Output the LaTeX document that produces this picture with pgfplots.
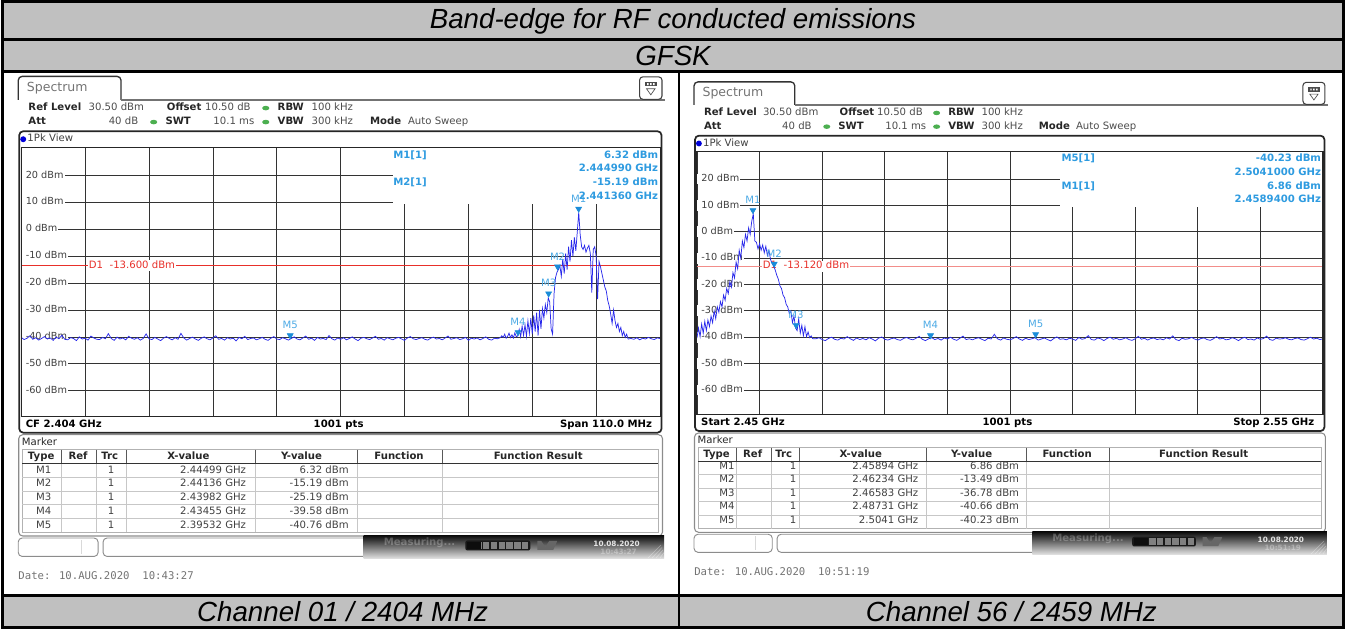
\documentclass[border=0pt]{standalone}
\usepackage{fontspec}
\setmainfont{Liberation Sans}
\newfontfamily\dv{DejaVu Sans}
\newfontfamily\dvm{DejaVu Sans Mono}
\usepackage{pgfplots}
\pgfplotsset{compat=1.18}
\usepackage{pgfplotstable}

\definecolor{cellgray}{HTML}{C0C0C0}
\definecolor{trace}{RGB}{40,40,235}
\definecolor{mkblue}{HTML}{1A8CD8}
\definecolor{infoblue}{HTML}{2E9BE0}
\definecolor{d1red}{HTML}{E8302A}
\definecolor{okgreen}{HTML}{4CAF50}

\newcommand\sa{\dv\fontsize{7.6}{9}\selectfont}

% ---- CH01 trace, floor 2349..2431.5 MHz, 0.5 MHz steps
\pgfplotstableread[row sep=\\]{y\\
-40.2\\ -41.0\\ -40.5\\ -39.6\\ -40.9\\ -40.3\\ -41.2\\ -40.6\\ -39.9\\ -40.8\\
-40.4\\ -41.3\\ -40.1\\ -40.7\\ -39.4\\ -40.9\\ -41.1\\ -40.3\\ -40.6\\ -41.4\\
-40.0\\ -40.8\\ -40.5\\ -41.2\\ -39.7\\ -40.4\\ -40.9\\ -41.0\\ -40.2\\ -40.7\\
-38.8\\ -40.6\\ -41.3\\ -40.1\\ -40.8\\ -40.4\\ -41.1\\ -39.8\\ -40.5\\ -40.9\\
-40.3\\ -41.2\\ -40.6\\ -38.9\\ -40.7\\ -41.0\\ -40.2\\ -40.8\\ -41.4\\ -40.5\\
-39.9\\ -40.6\\ -41.1\\ -40.3\\ -40.9\\ -38.7\\ -40.4\\ -41.2\\ -40.6\\ -40.1\\
-40.8\\ -41.3\\ -40.5\\ -40.0\\ -40.7\\ -41.1\\ -40.4\\ -39.6\\ -40.9\\ -40.6\\
-41.2\\ -40.3\\ -40.8\\ -40.5\\ -41.5\\ -40.2\\ -40.7\\ -39.8\\ -41.0\\ -40.6\\
-40.4\\ -41.1\\ -40.7\\ -40.2\\ -40.9\\ -41.3\\ -40.5\\ -39.9\\ -40.8\\ -41.0\\
-40.3\\ -40.7\\ -41.2\\ -40.6\\ -40.0\\ -40.8\\ -41.1\\ -40.4\\ -39.7\\ -40.9\\
-40.5\\ -41.3\\ -40.2\\ -40.8\\ -40.6\\ -41.0\\ -39.5\\ -40.7\\ -41.2\\ -40.4\\
-40.9\\ -40.3\\ -41.1\\ -40.6\\ -40.0\\ -40.8\\ -41.4\\ -40.5\\ -40.2\\ -40.7\\
-41.0\\ -40.4\\ -39.8\\ -40.9\\ -40.6\\ -41.2\\ -40.3\\ -40.7\\ -41.1\\ -40.5\\
-40.2\\ -40.8\\ -41.3\\ -40.4\\ -39.9\\ -40.7\\ -41.0\\ -40.6\\ -40.3\\ -40.9\\
-41.2\\ -40.5\\ -40.1\\ -40.8\\ -40.6\\ -41.1\\ -40.4\\ -39.7\\ -40.9\\ -40.6\\
-40.3\\ -41.0\\ -40.7\\ -40.2\\ -41.3\\ -40.5\\ -40.8\\ -40.4\\ -41.1\\ -40.6\\
-40.0\\ -40.9\\ -41.2\\ -40.5\\ -40.7\\ -40.3\\
}\flLa
% ---- CH01 emission, 0.25 MHz steps
\pgfplotstableread[row sep=\\]{x y\\
2431.50 -40.3\\ 2431.75 -39.6\\
2432.00 -40.2\\ 2432.25 -39.0\\ 2432.50 -40.5\\ 2432.75 -39.8\\ 2433.00 -38.6\\ 2433.25 -40.3\\
2433.50 -39.2\\ 2433.75 -40.4\\ 2434.00 -38.5\\ 2434.25 -40.0\\ 2434.50 -39.6\\
2434.75 -37.2\\ 2435.00 -40.0\\ 2435.25 -36.0\\ 2435.50 -39.5\\ 2435.75 -35.5\\ 2436.00 -39.8\\
2436.25 -34.0\\ 2436.50 -38.8\\ 2436.75 -33.0\\ 2437.00 -39.0\\ 2437.25 -32.0\\ 2437.50 -38.0\\
2437.75 -31.0\\ 2438.00 -39.5\\ 2438.25 -30.0\\ 2438.50 -37.0\\ 2438.75 -29.5\\ 2439.00 -33.0\\
2439.25 -28.0\\ 2439.50 -31.0\\ 2439.75 -25.5\\ 2440.00 -27.0\\ 2440.25 -37.0\\ 2440.50 -39.0\\
2440.75 -24.0\\ 2441.00 -18.0\\ 2441.25 -16.0\\ 2441.50 -15.0\\
2441.75 -13.5\\ 2442.00 -17.5\\ 2442.25 -11.0\\ 2442.50 -16.5\\ 2442.75 -9.0\\ 2443.00 -15.0\\
2443.25 -6.5\\ 2443.50 -12.0\\ 2443.75 -4.0\\ 2444.00 -10.0\\ 2444.25 -3.0\\ 2444.50 -8.0\\
2444.75 -1.0\\ 2445.00 6.3\\ 2445.25 -2.0\\
2445.50 -6.5\\ 2445.75 -7.5\\ 2446.00 -6.0\\ 2446.25 -8.5\\ 2446.50 -7.0\\ 2446.75 -6.0\\
2447.00 -9.0\\ 2447.25 -23.5\\ 2447.50 -7.5\\ 2447.75 -6.5\\ 2448.00 -10.0\\ 2448.25 -26.0\\
2448.50 -12.0\\ 2448.75 -14.0\\
2449.00 -16.5\\ 2449.25 -19.0\\ 2449.50 -21.5\\ 2449.75 -23.0\\ 2450.00 -26.5\\ 2450.25 -28.5\\
2450.50 -31.5\\ 2450.75 -35.0\\ 2451.00 -30.0\\ 2451.25 -34.0\\ 2451.50 -36.5\\ 2451.75 -35.0\\
2452.00 -38.0\\ 2452.25 -36.5\\ 2452.50 -39.5\\ 2452.75 -38.0\\ 2453.00 -40.2\\ 2453.25 -39.0\\
2453.50 -40.8\\
}\emL
% ---- CH01 floor 2453.5..2459 MHz
\pgfplotstableread[row sep=\\]{y\\
-40.8\\ -40.6\\ -40.9\\ -40.3\\ -41.1\\ -40.5\\ -40.8\\ -40.2\\ -40.7\\ -41.0\\ -40.4\\ -40.6\\
}\flLb

% ---- CH56 emission 2450..2468.5 MHz, 0.25 MHz steps
\pgfplotstableread[row sep=\\]{x y\\
2450.00 -40.3\\ 2450.25 -36.5\\ 2450.50 -39.8\\ 2450.75 -35.0\\ 2451.00 -38.5\\ 2451.25 -34.0\\
2451.50 -37.5\\ 2451.75 -33.5\\ 2452.00 -36.0\\ 2452.25 -32.0\\ 2452.50 -34.5\\ 2452.75 -30.0\\
2453.00 -33.0\\ 2453.25 -28.5\\ 2453.50 -30.5\\ 2453.75 -26.5\\ 2454.00 -28.5\\ 2454.25 -24.0\\
2454.50 -26.0\\ 2454.75 -21.5\\ 2455.00 -23.5\\ 2455.25 -19.0\\ 2455.50 -21.0\\ 2455.75 -15.5\\
2456.00 -17.5\\ 2456.25 -11.5\\ 2456.50 -14.0\\ 2456.75 -7.0\\ 2457.00 -10.0\\ 2457.25 -3.5\\
2457.50 -6.0\\ 2457.75 -1.0\\ 2458.00 -3.5\\ 2458.25 1.5\\ 2458.50 -1.0\\ 2458.75 4.0\\
2459.00 6.8\\ 2459.25 -3.5\\ 2459.50 -4.0\\ 2459.75 -6.5\\ 2460.00 -4.5\\ 2460.25 -7.0\\
2460.50 -5.0\\ 2460.75 -8.0\\ 2461.00 -5.5\\ 2461.25 -9.0\\ 2461.50 -7.0\\ 2461.75 -10.5\\
2462.00 -12.0\\ 2462.25 -13.0\\ 2462.50 -14.5\\ 2462.75 -16.5\\ 2463.00 -18.0\\ 2463.25 -20.5\\
2463.50 -21.5\\ 2463.75 -24.0\\ 2464.00 -25.0\\ 2464.25 -27.5\\ 2464.50 -28.5\\ 2464.75 -31.0\\
2465.00 -30.0\\ 2465.25 -34.5\\ 2465.50 -32.0\\ 2465.75 -36.5\\ 2466.00 -37.5\\ 2466.25 -33.0\\
2466.50 -38.5\\ 2466.75 -35.5\\ 2467.00 -39.5\\ 2467.25 -36.0\\ 2467.50 -39.8\\ 2467.75 -38.0\\
2468.00 -40.2\\ 2468.25 -39.5\\ 2468.50 -40.6\\
}\emR
% ---- CH56 floor 2468.5..2550 MHz, 0.5 MHz steps
\pgfplotstableread[row sep=\\]{y\\
-40.6\\
-40.6\\ -40.2\\ -40.9\\ -41.3\\ -40.5\\ -40.0\\ -40.8\\ -41.1\\ -40.4\\ -40.7\\
-39.8\\ -40.6\\ -41.2\\ -40.3\\ -40.9\\ -40.5\\ -41.0\\ -40.2\\ -40.7\\ -41.4\\
-40.4\\ -39.9\\ -40.8\\ -41.1\\ -40.6\\ -40.3\\ -40.9\\ -41.2\\ -40.5\\ -40.1\\
-40.7\\ -41.0\\ -40.4\\ -39.7\\ -40.8\\ -41.3\\ -40.6\\ -40.2\\ -40.9\\ -40.5\\
-41.1\\ -40.3\\ -40.7\\ -40.0\\ -40.8\\ -41.2\\ -40.4\\ -39.6\\ -40.9\\ -40.6\\
-41.0\\ -40.5\\ -40.2\\ -40.8\\ -41.3\\ -40.4\\ -40.7\\ -38.9\\ -40.6\\ -41.1\\
-40.3\\ -40.8\\ -41.0\\ -40.5\\ -39.8\\ -40.7\\ -41.2\\ -40.4\\ -40.9\\ -40.6\\
-40.2\\ -41.1\\ -40.7\\ -40.3\\ -40.9\\ -41.4\\ -40.5\\ -39.9\\ -40.8\\ -40.6\\
-41.0\\ -40.4\\ -40.7\\ -41.2\\ -40.1\\ -40.8\\ -40.5\\ -39.4\\ -40.9\\ -41.1\\
-40.3\\ -40.6\\ -41.3\\ -40.5\\ -40.0\\ -40.8\\ -40.4\\ -41.0\\ -40.7\\ -40.2\\
-40.9\\ -41.2\\ -40.6\\ -39.7\\ -40.8\\ -40.4\\ -41.1\\ -40.5\\ -40.3\\ -40.9\\
-40.6\\ -41.0\\ -40.2\\ -40.7\\ -39.5\\ -40.9\\ -41.3\\ -40.4\\ -40.8\\ -40.6\\
-40.1\\ -40.7\\ -41.1\\ -40.5\\ -40.3\\ -40.9\\ -41.2\\ -40.6\\ -39.8\\ -40.7\\
-40.4\\ -41.0\\ -40.8\\ -40.2\\ -40.6\\ -41.3\\ -40.5\\ -40.0\\ -40.9\\ -40.7\\
-41.1\\ -40.3\\ -40.8\\ -40.5\\ -39.6\\ -40.9\\ -41.2\\ -40.4\\ -40.7\\ -40.6\\
-40.2\\ -40.8\\ -41.0\\ -40.5\\ -40.3\\ -40.9\\ -41.1\\ -40.6\\ -40.0\\ -40.7\\
-40.4\\ -40.9\\ -40.6\\
}\flR

\tikzset{
  px/.style={x=0.75pt, y=-0.75pt},
  t/.style={inner sep=0pt, text height=5.4pt, text depth=1.4pt, font=\sa, text=black!85},
  tl/.style={anchor=west, fill=white, inner sep=0.8pt, text height=5.2pt, text depth=1.3pt,
    font=\dv\fontsize{7.3}{9}\selectfont, text=black!75},
  info/.style={t, font=\sa\bfseries, text=infoblue},
  head/.style={font=\fontsize{20.8}{24}\selectfont\itshape, inner sep=0pt},
}

\pgfplotsset{
  spec/.style={scale only axis, anchor=south west, axis line style={draw=none},
    xmajorgrids, ymajorgrids, major grid style={black!80, line width=0.55pt},
    major tick length=0pt, xticklabels={}, yticklabels={},
    ymin=-69.5, ymax=30.5, ytick={-60,-50,...,20}},
  tr/.style={trace, line width=0.55pt, no marks},
  mk/.style={only marks, mark=triangle*, mark size=2.6pt,
    mark options={yshift=2.6pt, rotate=180, fill=mkblue, draw=mkblue},
    point meta=explicit symbolic, nodes near coords,
    every node near coord/.append style={anchor=south, yshift=4.2pt, inner sep=0.5pt,
      font=\dv\fontsize{7.6}{9}\selectfont, text=infoblue!85}},
}

% analyzer screen furniture, in pixel coordinates of the left screen
\newcommand\chrome[1]{%
  \draw[black!80, line width=1pt, rounded corners=3pt] (17,100) -- (17,76.5) -- (120,76.5) -- (120,100);
  \draw[black!55, line width=1.1pt] (120,100) -- (665,100);
  \node[anchor=west, inner sep=0pt, text=black!55, font=\dv\fontsize{9.4}{11}\selectfont] at (25.5,88.5) {Spectrum};
  \draw[black!75, line width=0.8pt, rounded corners=2.5pt] (639.5,77) rectangle (662,99.5);
  \fill[black!70] (645,82) rectangle (656.5,86.5);
  \fill[white] (647,83.3) rectangle (648.5,85.2) (650,83.3) rectangle (651.5,85.2) (653,83.3) rectangle (654.5,85.2);
  \draw[black!70, line width=0.5pt] (646.5,89) -- (655,89) -- (650.75,95) -- cycle;
  % settings
  \node[t, anchor=west, font=\sa\bfseries] at (27,108.3) {Ref Level};
  \node[t, anchor=west, text=black!70] at (87.3,108.3) {30.50 dBm};
  \node[t, anchor=west, font=\sa\bfseries] at (165.7,108.3) {Offset};
  \node[t, anchor=west, text=black!70] at (204,108.3) {10.50 dB};
  \node[t, anchor=west, font=\sa\bfseries] at (276.7,108.3) {RBW};
  \node[t, anchor=west, text=black!70] at (310.7,108.3) {100 kHz};
  \node[t, anchor=west, font=\sa\bfseries] at (27,122.3) {Att};
  \node[t, anchor=east, text=black!70] at (137.5,122.3) {40 dB};
  \node[t, anchor=west, font=\sa\bfseries] at (164.3,122.3) {SWT};
  \node[t, anchor=west, text=black!70] at (212.3,122.3) {10.1 ms};
  \node[t, anchor=west, font=\sa\bfseries] at (276.7,122.3) {VBW};
  \node[t, anchor=west, text=black!70] at (310.7,122.3) {300 kHz};
  \node[t, anchor=west, font=\sa\bfseries] at (369.3,122.3) {Mode};
  \node[t, anchor=west, text=black!70] at (407.3,122.3) {Auto Sweep};
  \fill[okgreen] (265,108.3) ellipse [x radius=3.6, y radius=2.3];
  \fill[okgreen] (265,122.3) ellipse [x radius=3.6, y radius=2.3];
  \fill[okgreen] (152.7,122.3) ellipse [x radius=3.6, y radius=2.3];
  % window
  \draw[black!85, line width=1.3pt, rounded corners=3pt] (18,131.5) rectangle (661.5,433.5);
  \fill[blue!85!black] (22,139.5) circle [radius=3];
  \node[t, anchor=west, text=black!75] at (26,139.5) {1Pk View};
  % marker list
  \draw[black!45, line width=0.8pt, rounded corners=3pt] (17.5,435.5) rectangle (662.5,537);
  \node[t, anchor=west, text=black!85] at (20.5,443.3) {Marker};
  \draw[black!30, line width=0.6pt] (21,450.5) rectangle (658.3,533.3);
  \foreach \yy in {478.3,492,505.8,519.5} \draw[black!22, line width=0.6pt] (21,\yy) -- (658.3,\yy);
  \foreach \xx in {60.7,95.7,125,254.3,356.7,441.7} {
    \draw[black!65, line width=0.6pt] (\xx,450.5) -- (\xx,464.5);
    \draw[black!22, line width=0.6pt] (\xx,464.5) -- (\xx,533.3);}
  \draw[black!80, line width=0.9pt] (21,464.5) -- (658.3,464.5);
  \foreach \c/\h in {40/Type, 77/Ref, 108.7/Trc, 187.5/X-value, 300.8/Y-value, 398.5/Function, 538/Function Result}
    \node[t, font=\sa\bfseries] at (\c,457.6) {\h};
  % status bar
  \draw[black!45, line width=0.7pt, rounded corners=3pt] (17,539) rectangle (97,557.5);
  \draw[black!15, line width=0.6pt] (80,541) -- (80,555.5);
  \draw[black!45, line width=0.7pt, rounded corners=3pt] (102,539) rectangle (368,557.5);
  \shade[top color=black!95, bottom color=black!10] (363,536.5) rectangle (664,560);
  \node[t, anchor=west, font=\sa\bfseries, text=white, opacity=0.25] at (383,544) {Measuring...};
  \fill[black!90, rounded corners=1.5pt] (465,541.5) rectangle (530,551.5);
  \foreach \i in {0,...,7} \fill[black!50] ({467+\i*7.8},543) rectangle ({473.5+\i*7.8},550);
  \fill[black!95] (467,543) rectangle (481,550);
  \fill[black!60] (537,542) -- (541,542) -- (545,548) -- (549,542) -- (557,542) -- (553,551) -- (537,551) -- cycle;
  \node[anchor=west, inner sep=0pt, font=\dv\bfseries\fontsize{5.5}{6}\selectfont, text=white, opacity=0.85] at (593,544.5) {10.08.2020};
  \node[anchor=west, inner sep=0pt, font=\dv\bfseries\fontsize{5.5}{6}\selectfont, text=white, opacity=0.3] at (600,553) {#1};
  \foreach \i in {0,...,3} \draw[white, opacity=0.35, line width=0.4pt] ({648+\i*4},559) -- ({661+\i*1},546+\i*2.5);
  \node[anchor=west, inner sep=0pt, font=\dvm\fontsize{8}{9}\selectfont, text=black!55] at (17,577) {Date: 10.AUG.2020\ \ #1};
}

\begin{document}
\begin{tikzpicture}
\begin{scope}[px]
  \useasboundingbox (0,0) rectangle (1346,630);
  \fill[cellgray] (0,0) rectangle (1346,72) (0,597) rectangle (1346,630);
  \chrome{10:43:27}
\end{scope}
\begin{scope}[px, shift={(677.4,7.05)}, scale=0.98]
  \chrome{10:51:19}
\end{scope}

% ---- Channel 01 ----  (grid: x 20..660 px, y 147.5..417 px)
\begin{axis}[spec, at={(15pt,-312.75pt)}, width=480pt, height=202.1pt,
  xmin=2349, xmax=2459, xtick={2349,2360,...,2459}]
  \pgfplotsinvokeforeach{-60,-50,...,20}{\node[tl] at (axis cs:2349,#1) {\hspace{2.4pt}#1 dBm};}
  \draw[d1red, line width=0.6pt] (axis cs:2349,-13.6) -- (axis cs:2459,-13.6);
  \node[tl, text=d1red, font=\sa] at (axis cs:2360.4,-13.6) {D1\hspace{5pt}-13.600 dBm};
  \addplot[tr] table[x expr=2349+0.5*\coordindex, y=y] {\flLa};
  \addplot[tr] table[x=x, y=y] {\emL};
  \addplot[tr] table[x expr=2453.5+0.5*\coordindex, y=y] {\flLb};
  \fill[white] (axis cs:2412.94,9.55) rectangle (axis cs:2461,32);
  \addplot[mk] coordinates {(2444.99,6.32)[M1] (2441.36,-15.19)[M2] (2439.82,-25.19)[M3]
    (2434.55,-39.58)[M4] (2395.32,-40.76)[M5]};
\end{axis}

% ---- Channel 56 ----  (grid: x 697..1324.2 px, y 151.6..415.7 px)
\begin{axis}[spec, at={(522.75pt,-311.78pt)}, width=470.4pt, height=198pt,
  xmin=2450, xmax=2550, xtick={2450,2460,...,2550}]
  \pgfplotsinvokeforeach{-60,-50,...,20}{\node[tl] at (axis cs:2450,#1) {\hspace{2.4pt}#1 dBm};}
  \draw[d1red!55, line width=1.1pt] (axis cs:2450,-13.12) -- (axis cs:2550,-13.12);
  \node[tl, text=d1red, font=\sa] at (axis cs:2460.3,-13.12) {D1\hspace{5pt}-13.120 dBm};
  \addplot[tr] table[x=x, y=y] {\emR};
  \addplot[tr] table[x expr=2468.5+0.5*\coordindex, y=y] {\flR};
  \fill[white] (axis cs:2508.05,9.5) rectangle (axis cs:2552,32);
  \addplot[mk] coordinates {(2458.94,6.86)[M1] (2462.34,-13.49)[M2] (2465.83,-36.78)[M3]
    (2487.31,-40.66)[M4] (2504.10,-40.23)[M5]};
\end{axis}

\begin{scope}[px]
% grid frames
\draw[black!85, line width=0.8pt] (20,147.5) rectangle (660,417);
\draw[black!85, line width=0.8pt] (697,151.6) rectangle (1324.2,415.7);

% marker info, CH01
\node[info, anchor=west] at (392.5,156) {M1[1]};
\node[info, anchor=east] at (658.3,156) {6.32 dBm};
\node[info, anchor=east] at (658.3,169.5) {2.444990 GHz};
\node[info, anchor=west] at (392.5,183.3) {M2[1]};
\node[info, anchor=east] at (658.3,183.3) {-15.19 dBm};
\node[info, anchor=east] at (658.3,197.3) {2.441360 GHz};
% marker info, CH56
\node[info, anchor=west] at (1062,159) {M5[1]};
\node[info, anchor=east] at (1322.5,159) {-40.23 dBm};
\node[info, anchor=east] at (1322.5,172.7) {2.5041000 GHz};
\node[info, anchor=west] at (1062,186.7) {M1[1]};
\node[info, anchor=east] at (1322.5,186.7) {6.86 dBm};
\node[info, anchor=east] at (1322.5,200) {2.4589400 GHz};

% footers
\node[t, anchor=west, font=\sa\bfseries, text=black] at (24.3,425.5) {CF 2.404 GHz};
\node[t, font=\sa\bfseries, text=black] at (338,425.5) {1001 pts};
\node[t, anchor=east, font=\sa\bfseries, text=black] at (652.3,425.5) {Span 110.0 MHz};
\node[t, anchor=west, font=\sa\bfseries, text=black] at (701,423.3) {Start 2.45 GHz};
\node[t, font=\sa\bfseries, text=black] at (1008,423.3) {1001 pts};
\node[t, anchor=east, font=\sa\bfseries, text=black] at (1315.7,423.3) {Stop 2.55 GHz};

% marker tables
\foreach \r/\yy/\fx/\fy in {M1/471.4/2.44499/6.32, M2/485.2/2.44136/-15.19, M3/498.9/2.43982/-25.19,
    M4/512.7/2.43455/-39.58, M5/526.4/2.39532/-40.76} {
  \node[t, anchor=east, text=black!75] at (50.5,\yy) {\r};
  \node[t, anchor=east, text=black!75] at (113.5,\yy) {1};
  \node[t, anchor=east, text=black!75] at (245.5,\yy) {\fx\ GHz};
  \node[t, anchor=east, text=black!75] at (348.3,\yy) {\fy\ dBm};
}
\foreach \r/\yy/\fx/\fy in {M1/467.7/2.45894/6.86, M2/481/2.46234/-13.49, M3/494.7/2.46583/-36.78,
    M4/508/2.48731/-40.66, M5/521.7/2.5041/-40.23} {
  \node[t, anchor=east, text=black!75] at (735,\yy) {\r};
  \node[t, anchor=east, text=black!75] at (796.7,\yy) {1};
  \node[t, anchor=east, text=black!75] at (919,\yy) {\fx\ GHz};
  \node[t, anchor=east, text=black!75] at (1020,\yy) {\fy\ dBm};
}

% outer table
\draw[black, line width=1.9pt] (1.3,1.3) rectangle (1344.7,628.7);
\draw[black, line width=1.9pt] (0,39.8) -- (1346,39.8) (0,71.8) -- (1346,71.8)
  (0,596.8) -- (1346,596.8) (678.8,71.8) -- (678.8,628.7);
\node[head] at (673,21.5) {Band-edge for RF conducted emissions};
\node[head] at (673,56) {GFSK};
\node[head] at (342,613) {Channel 01 / 2404 MHz};
\node[head] at (1012,613) {Channel 56 / 2459 MHz};
\end{scope}
\end{tikzpicture}
\end{document}
